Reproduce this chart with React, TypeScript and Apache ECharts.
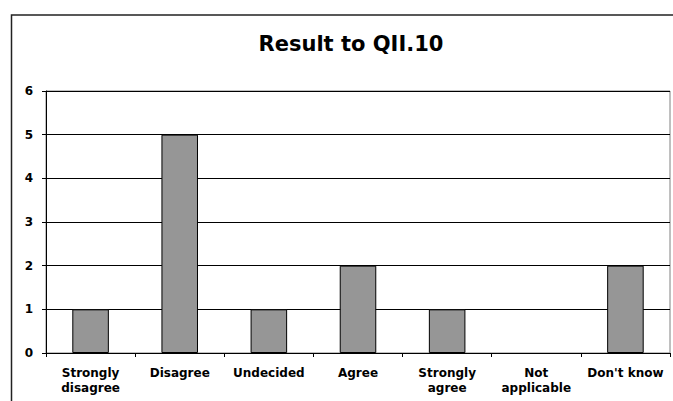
import React, { useEffect, useRef } from "react";
import * as echarts from "echarts";

const categories = [
  "Strongly\ndisagree",
  "Disagree",
  "Undecided",
  "Agree",
  "Strongly\nagree",
  "Not\napplicable",
  "Don't know",
];
const counts = [1, 5, 1, 2, 1, 0, 2];
const yTicks = { min: 0, max: 6, interval: 1 };
const titleText = "Result to QII.10";

const FONT = "'DejaVu Sans', Verdana, sans-serif";

export default function App() {
  const ref = useRef<HTMLDivElement>(null);

  useEffect(() => {
    if (!ref.current) return;
    const chart = echarts.init(ref.current, null, { renderer: "svg" });
    chart.setOption({
      animation: false,
      backgroundColor: "#ffffff",
      title: {
        text: titleText,
        left: 346,
        top: 28,
        textAlign: "center",
        textStyle: {
          fontFamily: FONT,
          fontWeight: "bold",
          fontSize: 21,
          color: "#000",
        },
      },
      graphic: [
        {
          type: "rect",
          shape: { x: 11.5, y: 15, width: 720, height: 440 },
          style: { fill: "none", stroke: "#222", lineWidth: 1.5 },
          silent: true,
          z: -1,
        },
      ],
      grid: {
        left: 46,
        right: 3,
        top: 91,
        bottom: 48,
        show: true,
        borderColor: "#808080",
        borderWidth: 1,
        backgroundColor: "transparent",
      },
      xAxis: {
        type: "category",
        data: categories,
        boundaryGap: true,
        axisLine: { show: true, lineStyle: { color: "#000", width: 1 } },
        axisTick: { show: true, length: 4, alignWithLabel: false, lineStyle: { color: "#000" } },
        axisLabel: {
          interval: 0,
          margin: 12,
          fontFamily: FONT,
          fontWeight: "bold",
          fontSize: 12,
          lineHeight: 15,
          color: "#000",
        },
        splitLine: { show: false },
      },
      yAxis: {
        type: "value",
        min: yTicks.min,
        max: yTicks.max,
        interval: yTicks.interval,
        axisLine: { show: true, lineStyle: { color: "#000", width: 1 } },
        axisTick: { show: true, length: 4, lineStyle: { color: "#000" } },
        axisLabel: {
          margin: 13,
          fontFamily: FONT,
          fontWeight: "bold",
          fontSize: 12,
          color: "#000",
        },
        splitLine: { show: true, lineStyle: { color: "#000", width: 1 } },
      },
      series: [
        {
          type: "bar",
          // zero-height bars get no outline so nothing shows on the axis
          data: counts.map((v) =>
            v === 0 ? { value: v, itemStyle: { borderWidth: 0 } } : v
          ),
          barWidth: "41%",
          itemStyle: { color: "#969696", borderColor: "#000", borderWidth: 1 },
        },
      ],
    });
    return () => chart.dispose();
  }, []);

  return (
    <div
      ref={ref}
      style={{ position: "fixed", left: 0, top: 0, width: 673, height: 401 }}
    />
  );
}
